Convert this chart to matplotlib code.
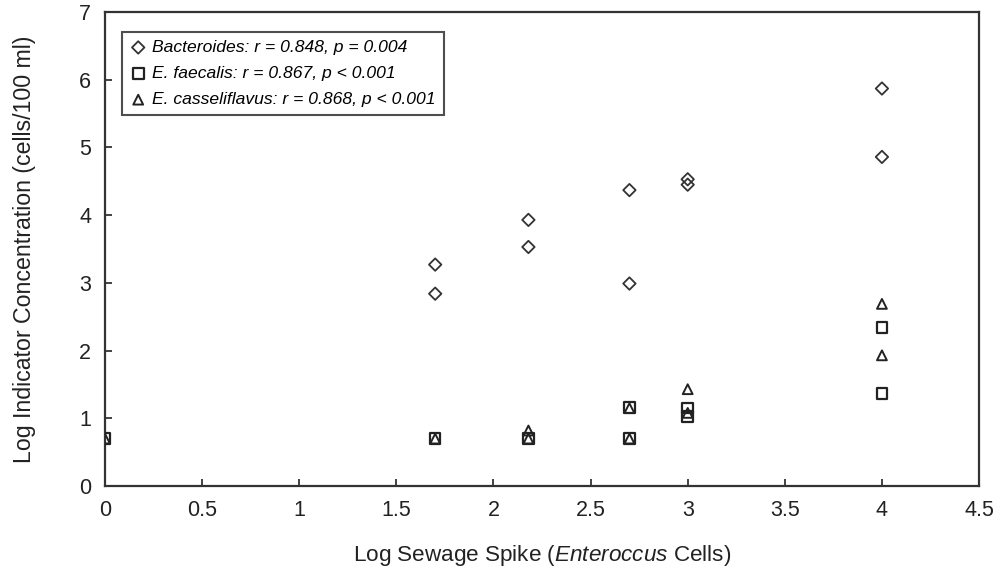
import matplotlib
matplotlib.use("Agg")
import matplotlib.pyplot as plt

plt.rcParams['font.family'] = ['Liberation Sans', 'DejaVu Sans']
plt.rcParams['mathtext.fontset'] = 'custom'
plt.rcParams['mathtext.it'] = 'Liberation Sans:italic'
plt.rcParams['mathtext.rm'] = 'Liberation Sans'

bact_x = [1.7, 1.7, 2.18, 2.18, 2.7, 2.7, 3.0, 3.0, 4.0, 4.0]
bact_y = [3.27, 2.84, 3.93, 3.53, 4.37, 2.99, 4.53, 4.45, 5.87, 4.86]

faec_x = [0.0, 1.7, 2.18, 2.7, 2.7, 3.0, 3.0, 4.0, 4.0]
faec_y = [0.7, 0.7, 0.7, 1.16, 0.7, 1.15, 1.03, 2.34, 1.37]

cass_x = [0.0, 1.7, 2.18, 2.18, 2.7, 2.7, 3.0, 3.0, 4.0, 4.0]
cass_y = [0.7, 0.7, 0.82, 0.7, 1.15, 0.7, 1.43, 1.08, 2.69, 1.93]

labels = ["Bacteroides: r = 0.848, p = 0.004",
          "E. faecalis: r = 0.867, p < 0.001",
          "E. casseliflavus: r = 0.868, p < 0.001"]

xticks = [0, 0.5, 1, 1.5, 2, 2.5, 3, 3.5, 4, 4.5]
xticklabels = ["0", "0.5", "1", "1.5", "2", "2.5", "3", "3.5", "4", "4.5"]
yticks = [0, 1, 2, 3, 4, 5, 6, 7]

fig = plt.figure(figsize=(9.97, 5.72), dpi=100)
ax = fig.add_axes([0.1053, 0.1503, 0.8767, 0.8287])

ec = '#333333'
ax.scatter(bact_x, bact_y, marker='D', s=40, facecolors='none', edgecolors=ec,
           linewidths=1.3, label=labels[0], zorder=3)
ax.scatter(faec_x, faec_y, marker='s', s=58, facecolors='none', edgecolors='#222222',
           linewidths=1.6, label=labels[1], zorder=3)
ax.scatter(cass_x, cass_y, marker='^', s=50, facecolors='none', edgecolors='#222222',
           linewidths=1.4, label=labels[2], zorder=3)

ax.set_xlim(0, 4.5)
ax.set_ylim(0, 7)
ax.set_xticks(xticks)
ax.set_xticklabels(xticklabels)
ax.set_yticks(yticks)
ax.tick_params(direction='in', length=5, width=1.2, labelsize=15.5, colors='#222222',
               top=False, right=False, pad=10)
for sp in ax.spines.values():
    sp.set_linewidth(1.6)
    sp.set_color('#333333')

ax.set_xlabel("Log Sewage Spike ($\\it{Enteroccus}$ Cells)", fontsize=16.2, labelpad=16,
              color='#222222')
ax.set_ylabel("Log Indicator Concentration (cells/100 ml)", fontsize=16.7, labelpad=31,
              color='#222222')

leg = ax.legend(loc='upper left', bbox_to_anchor=(0.019, 0.958), frameon=True,
                fancybox=False, edgecolor='#222222',
                prop={'style': 'italic', 'size': 12.6}, handletextpad=0.3,
                handlelength=1.0, borderpad=0.45, labelspacing=0.62, borderaxespad=0)
leg.get_frame().set_linewidth(1.5)

fig.savefig("out.png", dpi=100)
